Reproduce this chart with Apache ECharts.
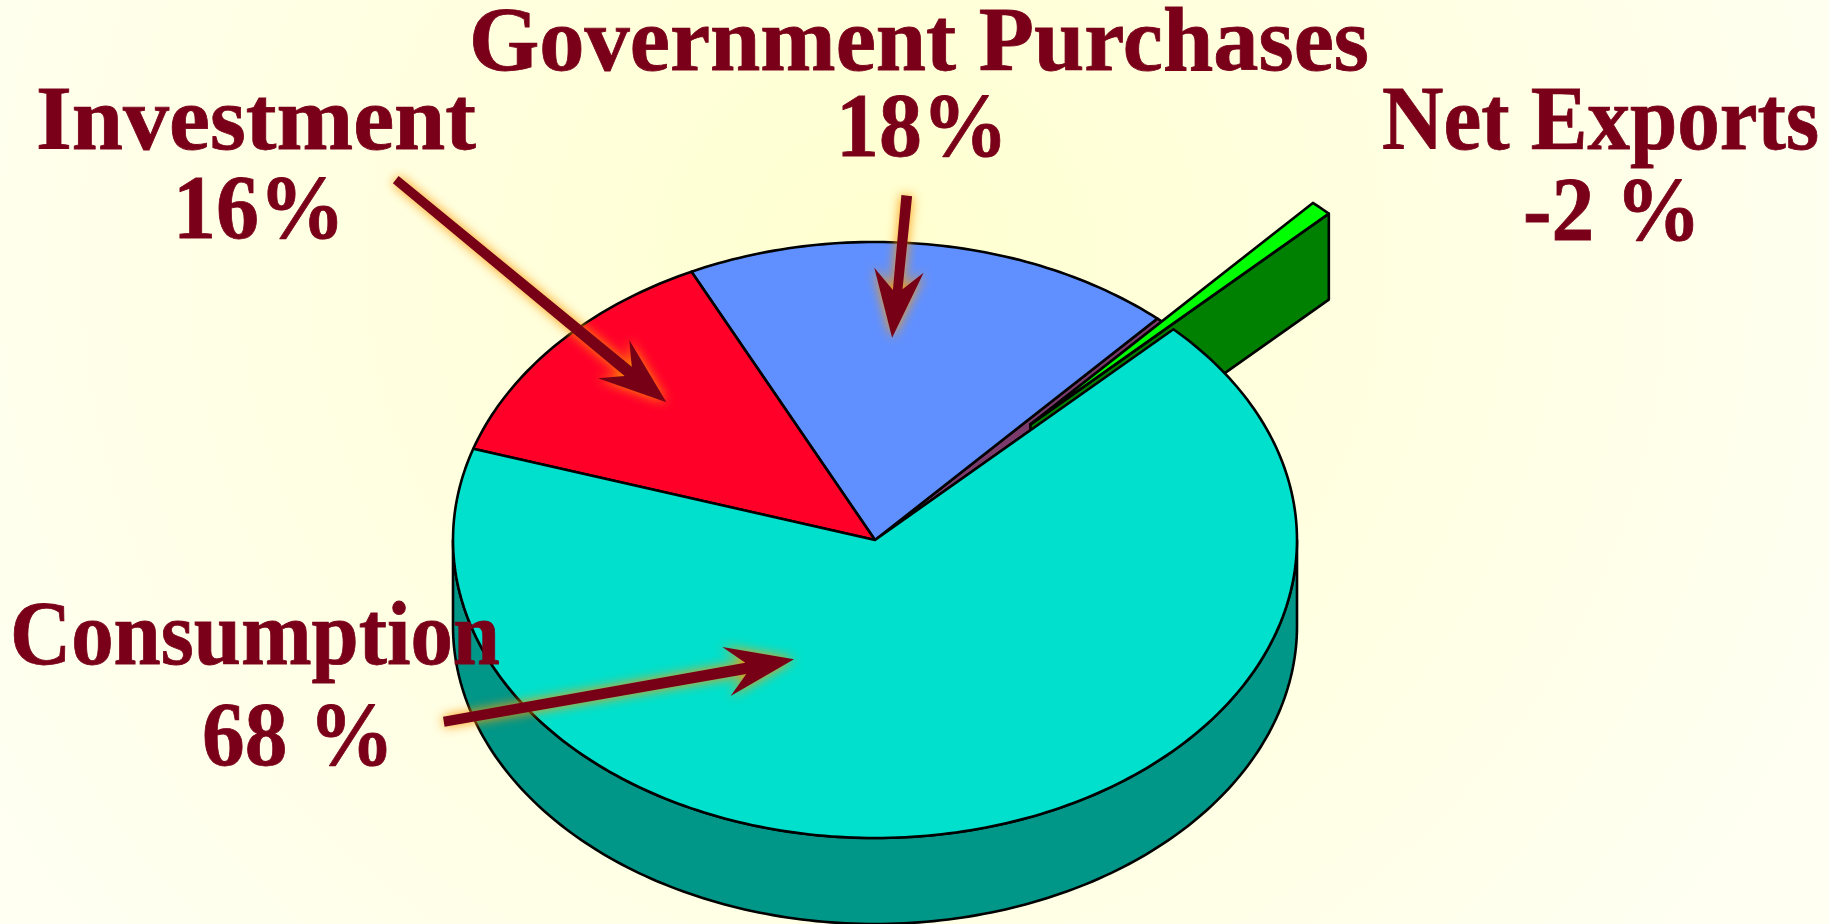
<!DOCTYPE html>
<html>
<head>
<meta charset="utf-8">
<title>GDP pie</title>
<style>
html, body { margin: 0; padding: 0; width: 100%; height: 100%; overflow: hidden; }
#main { width: 1829px; height: 924px; }
</style>
<script src="https://cdn.jsdelivr.net/npm/echarts@6/dist/echarts.min.js"></script>
</head>
<body>
<div id="main"></div>
<script>
// slices in drawing order, counter-clockwise from the right rim
var sliceNames = ['Net Exports', 'Government Purchases', 'Investment', 'Consumption'];
var sliceShares = [0.83, 18.83, 12.89, 67.45]; // share of the drawn circle
var sliceLabels = ['-2 %', '18%', '16%', '68 %'];

var topColors = ['#00ff00', '#6090ff', '#ff0029', '#00e0cc'];
var wallColors = ['#008000', '#3a5ab0', '#a00018', '#009688'];
var gapColor = '#7a3a6a';

// pie geometry in pixels
var cx = 875, cy = 540, rx = 422, ry = 298, depth = 86;
var startAngle = 45;
var explode = [0.535, 0, 0, 0];

var textColor = '#7a0019';
var arrowColor = '#770017';

function pt(ox, oy, a, k) {
	var r = a * Math.PI / 180;
	return [ox + rx * k * Math.cos(r), oy - ry * k * Math.sin(r)];
}

function arcPts(ox, oy, a0, a1, dy) {
	var pts = [];
	var n = Math.max(2, Math.ceil(Math.abs(a1 - a0)));
	for(var i = 0; i <= n; i++) {
		var p = pt(ox, oy, a0 + (a1 - a0) * i / n, 1);
		pts.push([p[0], p[1] + dy]);
	}
	return pts;
}

function poly(points, fill) {
	return {
		type: 'polygon',
		shape: { points: points },
		style: { fill: fill, stroke: '#000', lineWidth: 2.6, lineJoin: 'round' }
	};
}

function renderSlice(params, api) {
	var i = params.dataIndex;
	var before = 0;
	for(var j = 0; j < i; j++) before += sliceShares[j];
	var a0 = startAngle + before * 3.6;
	var a1 = a0 + api.value(0) * 3.6;
	var mid = (a0 + a1) / 2;
	var off = pt(0, 0, mid, explode[i]);
	var ox = cx + off[0], oy = cy + off[1];
	var children = [];

	if(explode[i] > 0) {
		// hole left in the pie, then the pulled out slice's cut face
		children.push(poly([[cx, cy]].concat(arcPts(cx, cy, a0, a1, 0)), gapColor));
		var e = pt(ox, oy, a0, 1);
		children.push(poly([[ox, oy], e, [e[0], e[1] + depth], [ox, oy + depth]], wallColors[i]));
	}

	// front wall, only the lower half of the rim faces us
	var w0 = Math.max(a0, 180), w1 = Math.min(a1, 360);
	if(w1 > w0) {
		children.push(poly(arcPts(ox, oy, w0, w1, 0).concat(arcPts(ox, oy, w1, w0, depth)), wallColors[i]));
	}

	children.push(poly([[ox, oy]].concat(arcPts(ox, oy, a0, a1, 0)), topColors[i]));
	return { type: 'group', children: children };
}

// annotations: text lines and arrows
var textLines = [
	{ text: 'Government Purchases', x: 469, y: 2, w: 900 },
	{ text: sliceLabels[1], x: 836, y: 88, w: 172 },
	{ text: sliceNames[0], x: 1382, y: 81, w: 437 },
	{ text: sliceLabels[0], x: 1523, y: 172, w: 178 },
	{ text: sliceNames[2], x: 36, y: 81, w: 440 },
	{ text: sliceLabels[2], x: 173, y: 170, w: 172 },
	{ text: sliceNames[3], x: 10, y: 596, w: 490 },
	{ text: sliceLabels[3], x: 202, y: 697, w: 192 }
];

var arrows = [
	[[398.6, 176], [631.8, 366.7], [629.3, 340], [666.4, 402.3], [597.9, 378.3], [624.6, 376], [392.9, 183.3]],
	[[901.4, 195], [912.1, 196.3], [902.5, 289.3], [923.6, 272.7], [892.1, 337.7], [874.3, 267.7], [892.9, 290]],
	[[443, 716.7], [745.3, 662.7], [722.3, 647], [794, 659.3], [730.6, 696], [746.3, 674], [444.6, 726.7]]
];

var font = 'bold 90px "Liberation Serif"';
var probe = document.createElement('canvas').getContext('2d');
probe.font = font;

var graphics = [];
arrows.forEach(function(a) {
	graphics.push({
		type: 'polygon',
		z: 10,
		shape: { points: a },
		style: { fill: arrowColor, shadowColor: '#ff9800', shadowBlur: 12 }
	});
});
textLines.forEach(function(t) {
	graphics.push({
		type: 'text',
		z: 11,
		x: t.x,
		y: t.y,
		scaleX: t.w / probe.measureText(t.text).width,
		style: { text: t.text, font: font, fill: textColor, stroke: textColor, lineWidth: 0.8, align: 'left', verticalAlign: 'top' }
	});
});

var myChart = echarts.init(document.getElementById('main'), null, { renderer: 'canvas' });
myChart.setOption({
	animation: false,
	backgroundColor: new echarts.graphic.RadialGradient(875, 260, 1050, [
		{ offset: 0, color: '#ffffd0' },
		{ offset: 1, color: '#fffff2' }
	], true),
	graphic: graphics,
	series: [{
		type: 'custom',
		name: 'GDP',
		coordinateSystem: 'none',
		renderItem: renderSlice,
		data: sliceShares,
		silent: true
	}]
});
</script>
</body>
</html>
